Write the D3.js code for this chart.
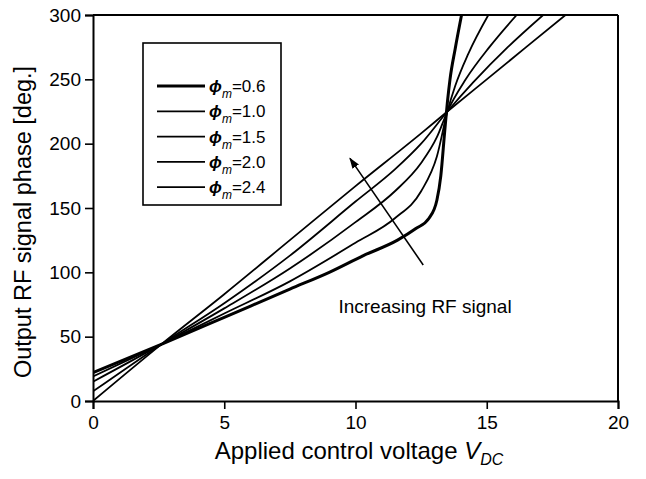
<!DOCTYPE html>
<html>
<head>
<meta charset="utf-8">
<script src="https://cdn.jsdelivr.net/npm/d3@7"></script>
<style>
  body { margin: 0; background: #fff; }
  svg { font-family: "Liberation Sans", Arial, sans-serif; }
</style>
</head>
<body>
<svg id="chart" width="646" height="479"></svg>
<script>
// legend labels (phi_m values)
const phiLabels = ['0.6', '1.0', '1.5', '2.0', '2.4']

// curve points: control voltage [V] and phase [deg.]
const v06 = [0, 2.6, 5, 7.5, 9, 10.3, 11.6, 12.3, 12.8, 13.1, 13.25, 13.4, 13.5, 13.6, 13.8, 14.04]
const p06 = [22, 44, 65, 87, 100, 113, 125, 134, 142, 156, 175, 210, 232, 250, 274, 300]

const v10 = [0, 2.6, 5, 7.5, 10, 11.5, 12.5, 13.1, 13.5, 13.8, 14.3, 15.06]
const p10 = [19, 44, 68, 93, 123, 142, 163, 190, 225, 245, 270, 300]

const v15 = [0, 2.6, 5, 7.5, 10, 11.5, 12.5, 13.1, 13.5, 14.2, 15.1, 16.14]
const p15 = [15, 44, 72, 103, 139, 163, 185, 205, 225, 250, 275, 300]

const v20 = [0, 2.6, 5, 7.5, 10, 11.5, 12.5, 13.5, 14.5, 15.8, 17.15]
const p20 = [7.5, 44, 76, 113, 155, 180, 200, 225, 248, 275, 300]

const v24 = [0, 2.6, 5, 7.5, 10, 12.5, 13.5, 15, 18]
const p24 = [0, 44, 83, 125, 167, 208, 225, 250, 300]

// arrow "Increasing RF signal": tail and head in data units
const arrowV = [12.58, 9.79]
const arrowP = [105.7, 188.6]

const xTicks = [0, 5, 10, 15, 20]
const yTicks = [0, 50, 100, 150, 200, 250, 300]

const series = [
    { v: v06, p: p06, w: 3 },
    { v: v10, p: p10, w: 1.8 },
    { v: v15, p: p15, w: 1.8 },
    { v: v20, p: p20, w: 1.8 },
    { v: v24, p: p24, w: 1.8 }
]

const margin = { left: 93, right: 28, top: 15, bottom: 78 }
const width = 646 - margin.left - margin.right
const height = 479 - margin.top - margin.bottom

const svg = d3.select('#chart')
const g = svg.append('g').attr('transform', `translate(${margin.left},${margin.top})`)

const x = d3.scaleLinear().domain([0, 20]).range([0, width])
const y = d3.scaleLinear().domain([0, 300]).range([height, 0])

g.append('clipPath').attr('id', 'clip')
    .append('rect').attr('width', width).attr('height', height)

const line = d3.line()
    .x((d) => x(d[0]))
    .y((d) => y(d[1]))
    .curve(d3.curveMonotoneX)

g.append('g').attr('clip-path', 'url(#clip)')
    .selectAll('path')
    .data(series)
    .enter()
    .append('path')
    .attr('d', (s) => line(s.v.map((v, i) => [v, s.p[i]])))
    .attr('fill', 'none')
    .attr('stroke', '#000')
    .attr('stroke-width', (s) => s.w)
    .attr('stroke-linejoin', 'round')

// axes
const xAxis = g.append('g')
    .attr('transform', `translate(0,${height})`)
    .call(d3.axisBottom(x).tickValues(xTicks).tickSize(8).tickPadding(7))
const yAxis = g.append('g')
    .call(d3.axisLeft(y).tickValues(yTicks).tickSize(8).tickPadding(4))

;[xAxis, yAxis].forEach((a) => {
    a.select('.domain').attr('stroke-width', 2)
    a.selectAll('line').attr('stroke-width', 1.6)
    a.selectAll('text').attr('font-size', 19).attr('fill', '#000')
        .attr('font-family', '"Liberation Sans", Arial, sans-serif')
})

// top and right frame
g.append('line').attr('x1', 0).attr('x2', width).attr('y1', 0).attr('y2', 0)
    .attr('stroke', '#000').attr('stroke-width', 2)
g.append('line').attr('x1', width).attr('x2', width).attr('y1', 0).attr('y2', height)
    .attr('stroke', '#000').attr('stroke-width', 2)

// axis titles
const xt = svg.append('text')
    .attr('x', 359)
    .attr('y', 459)
    .attr('text-anchor', 'middle')
    .attr('font-size', 24)
xt.append('tspan').text('Applied control voltage ')
xt.append('tspan').attr('font-style', 'italic').text('V')
xt.append('tspan').attr('font-style', 'italic').attr('font-size', 16).attr('dy', 6).text('DC')

svg.append('text')
    .attr('transform', `translate(31,${margin.top + height / 2 + 14}) rotate(-90)`)
    .attr('text-anchor', 'middle')
    .attr('font-size', 23.5)
    .text('Output RF signal phase [deg.]')

// legend
const legend = g.append('g').attr('transform', 'translate(50,28)')
legend.append('rect')
    .attr('width', 138).attr('height', 162)
    .attr('fill', '#fff').attr('stroke', '#000').attr('stroke-width', 1.6)

const item = legend.selectAll('g.item')
    .data(phiLabels)
    .enter()
    .append('g')
    .attr('class', 'item')
    .attr('transform', (d, i) => `translate(0,${43 + i * 25.3})`)

item.append('line')
    .attr('x1', 14).attr('x2', 62)
    .attr('stroke', '#000')
    .attr('stroke-width', (d, i) => series[i].w)

const lt = item.append('text')
    .attr('x', 66).attr('y', 6)
    .attr('font-size', 17)
lt.append('tspan').attr('font-style', 'italic').attr('font-weight', 'bold').text('ϕ')
lt.append('tspan').attr('font-style', 'italic').attr('font-size', 12).attr('dy', 6).text('m')
lt.append('tspan').attr('dy', -6).text((d) => '=' + d)

// arrow and annotation
svg.append('defs').append('marker')
    .attr('id', 'head')
    .attr('viewBox', '0 0 10 10')
    .attr('refX', 9).attr('refY', 5)
    .attr('markerWidth', 7).attr('markerHeight', 7)
    .attr('orient', 'auto')
    .append('path').attr('d', 'M0,1.5 L10,5 L0,8.5 Z').attr('fill', '#000')

g.append('line')
    .attr('x1', x(arrowV[0])).attr('y1', y(arrowP[0]))
    .attr('x2', x(arrowV[1])).attr('y2', y(arrowP[1]))
    .attr('stroke', '#000').attr('stroke-width', 1.6)
    .attr('marker-end', 'url(#head)')

g.append('text')
    .attr('x', x(9.35)).attr('y', y(68.5))
    .attr('font-size', 19)
    .text('Increasing RF signal')
</script>
</body>
</html>
